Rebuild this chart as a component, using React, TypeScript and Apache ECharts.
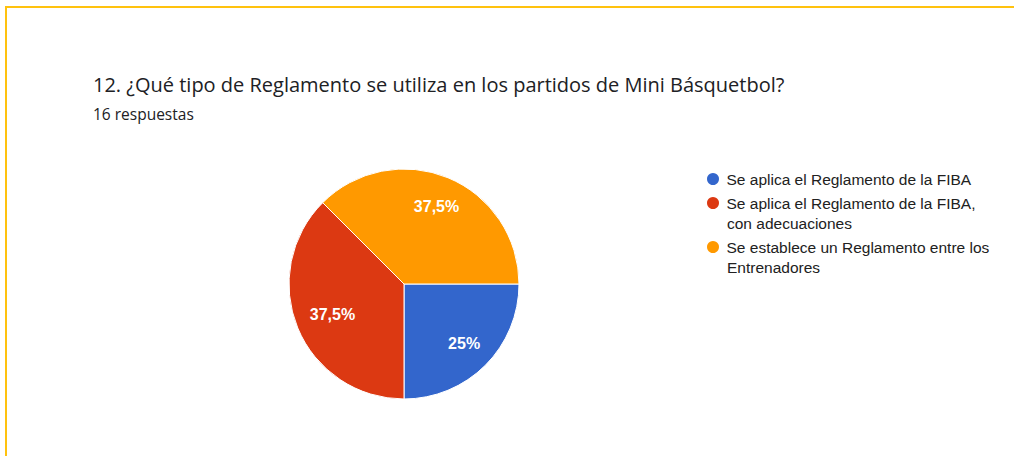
import React, { useEffect, useRef } from "react";
import * as echarts from "echarts";

const titleText = "12. ¿Qué tipo de Reglamento se utiliza en los partidos de Mini Básquetbol?";
const subtitleText = "16 respuestas";
const categories = [
  "Se aplica el Reglamento de la FIBA",
  "Se aplica el Reglamento de la FIBA, con adecuaciones",
  "Se establece un Reglamento entre los Entrenadores",
];
const legendFirstLines = [
  "Se aplica el Reglamento de la FIBA",
  "Se aplica el Reglamento de la FIBA,",
  "Se establece un Reglamento entre los",
];
const legendSecondLines = ["", "con adecuaciones", "Entrenadores"];
const counts = [4, 6, 6];
const percentLabels = ["25%", "37,5%", "37,5%"];
const colors = ["#3366CC", "#DC3912", "#FF9900"];

export default function App() {
  const ref = useRef<HTMLDivElement>(null);
  useEffect(() => {
    if (!ref.current) return;
    const chart = echarts.init(ref.current, null, { renderer: "svg" });
    const data = categories.map((name, i) => ({
      name,
      value: counts[i],
      itemStyle: { color: colors[i] },
    }));
    const labelOffsets = [[0, -1], [7, -2], [0, 1]];
    const legendCenters = [178, 202, 246];
    const legendFont = {
      fontFamily: "Liberation Sans, Arial, sans-serif",
      fontSize: 15.5,
      color: "#212121",
    };
    const legends = categories.map((name, i) => ({
      orient: "vertical",
      left: 700,
      top: legendCenters[i] - 7 - 5,
      icon: "circle",
      itemWidth: 17,
      itemHeight: 14,
      itemGap: 0,
      selectedMode: false,
      data: [name],
      formatter: () => legendFirstLines[i],
      textStyle: { ...legendFont, lineHeight: 14 },
    }));
    const secondLineGraphics = legendSecondLines
      .map((t, i) => ({ t, i }))
      .filter((o) => o.t)
      .map((o) => ({
        type: "text",
        x: 727,
        y: legendCenters[o.i] + 21,
        style: {
          text: o.t,
          fontFamily: legendFont.fontFamily,
          fontSize: legendFont.fontSize,
          fill: legendFont.color,
          verticalAlign: "middle",
        },
        silent: true,
      }));
    chart.setOption({
      animation: false,
      backgroundColor: "#ffffff",
      graphic: [
        {
          type: "rect",
          shape: { x: 6, y: 7, width: 1030, height: 470 },
          style: { fill: "none", stroke: "#FFC20E", lineWidth: 2 },
          silent: true,
        },
        {
          type: "text",
          x: 93,
          y: 84,
          style: {
            text: titleText,
            fontFamily: "Open Sans, sans-serif",
            fontSize: 20,
            fill: "#202124",
            verticalAlign: "middle",
          },
          silent: true,
        },
        {
          type: "text",
          x: 93,
          y: 114,
          style: {
            text: subtitleText,
            fontFamily: "Open Sans, sans-serif",
            fontSize: 15.5,
            fill: "#202124",
            verticalAlign: "middle",
          },
          silent: true,
        },
        ...secondLineGraphics,
      ],
      legend: legends,
      series: [
        {
          type: "pie",
          center: [404, 284],
          radius: [0, 115],
          startAngle: 0,
          clockwise: true,
          data,
          label: { show: false },
          labelLine: { show: false },
          itemStyle: { borderColor: "#ffffff", borderWidth: 1 },
          silent: true,
        },
        {
          type: "pie",
          center: [404, 284],
          radius: [50, 114],
          startAngle: 0,
          clockwise: true,
          data: data.map((d, i) => ({
            ...d,
            itemStyle: { color: "rgba(0,0,0,0)" },
            label: { offset: labelOffsets[i] },
          })),
          label: {
            show: true,
            position: "inside",
            formatter: (p: any) => percentLabels[p.dataIndex],
            color: "#ffffff",
            fontFamily: "Liberation Sans, Arial, sans-serif",
            fontSize: 16,
            fontWeight: "bold",
          },
          labelLine: { show: false },
          silent: true,
        },
      ],
    });
    return () => chart.dispose();
  }, []);
  return (
    <div
      ref={ref}
      style={{ position: "fixed", left: 0, top: 0, width: 1014, height: 456 }}
    />
  );
}
